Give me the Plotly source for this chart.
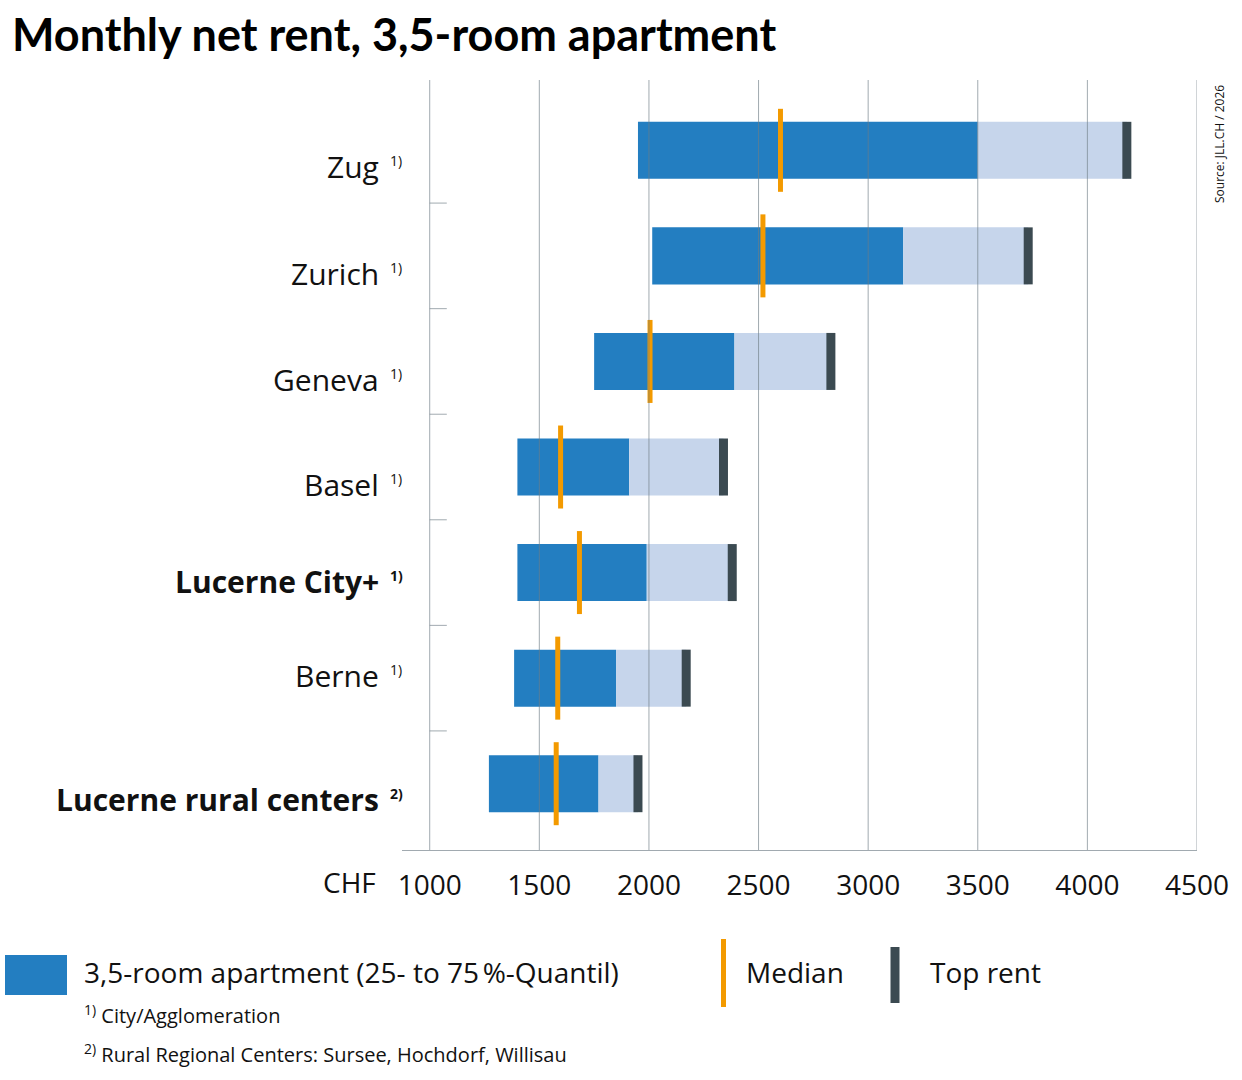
import plotly.graph_objects as go

# ---------------- data ----------------
cities = ["Zug", "Zurich", "Geneva", "Basel", "Lucerne City+", "Berne", "Lucerne rural centers"]
notes = ["1)", "1)", "1)", "1)", "1)", "1)", "2)"]
bold_rows = [False, False, False, False, True, False, True]
q25 = [1950, 2015, 1750, 1400, 1400, 1385, 1270]
q75 = [3500, 3160, 2390, 1910, 1990, 1850, 1770]
median = [2600, 2520, 2005, 1597, 1683, 1584, 1577]
top_rent = [4180, 3730, 2830, 2340, 2380, 2170, 1950]
x_ticks = [1000, 1500, 2000, 2500, 3000, 3500, 4000, 4500]

title = "Monthly net rent, 3,5-room apartment"
legend_box = "3,5-room apartment (25- to 75\u202f%-Quantil)"
legend_median = "Median"
legend_top = "Top rent"
foot1 = "City/Agglomeration"
foot2 = "Rural Regional Centers: Sursee, Hochdorf, Willisau"
source = "Source: JLL.CH / 2026"

# ---------------- style ----------------
DARK_BLUE = "#237EC1"
LIGHT_BLUE = "#C6D5EB"
ORANGE = "#F39A00"
TOP = "#3B4A51"
GRID = "rgba(110,124,134,0.65)"
TXT = "#111111"
FONT = "Open Sans"

W, H = 1242, 1080
L, R, T, B = 402, 45, 80, 230
PW, PH = W - L - R, H - T - B


def px(x):
    return (x - L) / PW


def py(y):
    return (H - B - y) / PH


idx = list(range(len(cities)))
LINE_K = 1.4  # plotly line-ns symbol length = size * 1.4

fig = go.Figure()
fig.add_trace(go.Bar(y=idx, x=[b - a for a, b in zip(q25, q75)], base=q25, orientation="h",
                     width=0.54, marker=dict(color=DARK_BLUE, line=dict(width=0)), hoverinfo="skip"))
fig.add_trace(go.Bar(y=idx, x=[b - a for a, b in zip(q75, top_rent)], base=q75, orientation="h",
                     width=0.54, marker=dict(color=LIGHT_BLUE, line=dict(width=0)), hoverinfo="skip"))
fig.add_trace(go.Scatter(y=idx, x=top_rent, mode="markers", hoverinfo="skip",
                         marker=dict(symbol="line-ns", size=57 / LINE_K, line=dict(width=9, color=TOP))))
fig.add_trace(go.Scatter(y=idx, x=median, mode="markers", hoverinfo="skip",
                         marker=dict(symbol="line-ns", size=83 / LINE_K, line=dict(width=5, color=ORANGE))))

shapes = []
# vertical gridlines drawn above bars (semi transparent, like the reference)
for v in x_ticks:
    shapes.append(dict(type="line", xref="x", yref="paper", x0=v, x1=v, y0=0, y1=1,
                       line=dict(color=GRID, width=1), layer="above"))
# row separators
for i in idx[:-1]:
    shapes.append(dict(type="line", xref="x", yref="y", x0=x_ticks[0], x1=x_ticks[0] + 78,
                       y0=i + 0.5, y1=i + 0.5, line=dict(color=GRID, width=1)))
# legend symbols
shapes.append(dict(type="rect", xref="paper", yref="paper", x0=px(5), x1=px(67), y0=py(995), y1=py(955),
                   fillcolor=DARK_BLUE, line=dict(width=0)))
shapes.append(dict(type="line", xref="paper", yref="paper", x0=px(723.5), x1=px(723.5), y0=py(1007), y1=py(939),
                   line=dict(color=ORANGE, width=5)))
shapes.append(dict(type="line", xref="paper", yref="paper", x0=px(895), x1=px(895), y0=py(1003), y1=py(947),
                   line=dict(color=TOP, width=9)))

ann = []
label_dy = [0.158, 0.164, 0.168, 0.17, 0.08, -0.026, 0.154]
for i, (c, n, b) in enumerate(zip(cities, notes, bold_rows)):
    t = f"<b>{c}</b>" if b else c
    s = f"<b>{n}</b>" if b else n
    ann.append(dict(xref="paper", yref="y", x=px(381), y=i + label_dy[i], text=t, showarrow=False,
                    xanchor="right", yanchor="middle", font=dict(family=FONT, size=30, color=TXT)))
    ann.append(dict(xref="paper", yref="y", x=px(388), y=i + label_dy[i], yshift=6, text=s, showarrow=False,
                    xanchor="left", yanchor="middle", font=dict(family=FONT, size=14, color=TXT)))

ann.append(dict(xref="paper", yref="paper", x=px(10), y=py(34), text=f"<b>{title}</b>", showarrow=False,
                xanchor="left", yanchor="middle",
                font=dict(family="Lato", size=45, color="#000000", weight=900)))
ann.append(dict(xref="paper", yref="paper", x=px(378), y=py(882), text="CHF", showarrow=False,
                xanchor="right", yanchor="middle", font=dict(family=FONT, size=28, color=TXT)))
ann.append(dict(xref="paper", yref="paper", x=px(82), y=py(972), text=legend_box, showarrow=False,
                xanchor="left", yanchor="middle", font=dict(family=FONT, size=28, color=TXT)))
ann.append(dict(xref="paper", yref="paper", x=px(744), y=py(972), text=legend_median, showarrow=False,
                xanchor="left", yanchor="middle", font=dict(family=FONT, size=28, color=TXT)))
ann.append(dict(xref="paper", yref="paper", x=px(928), y=py(972), text=legend_top, showarrow=False,
                xanchor="left", yanchor="middle", font=dict(family=FONT, size=28, color=TXT)))
ann.append(dict(xref="paper", yref="paper", x=px(82), y=py(1015), text=f"<sup>1)</sup> {foot1}", showarrow=False,
                xanchor="left", yanchor="middle", font=dict(family=FONT, size=20, color=TXT)))
ann.append(dict(xref="paper", yref="paper", x=px(82), y=py(1053), text=f"<sup>2)</sup> {foot2}", showarrow=False,
                xanchor="left", yanchor="middle", font=dict(family=FONT, size=20, color=TXT)))
ann.append(dict(xref="paper", yref="paper", x=px(1219), y=py(144), text=source, showarrow=False, textangle=-90,
                xanchor="center", yanchor="middle", font=dict(family=FONT, size=12, color=TXT)))

fig.update_layout(
    width=W, height=H, margin=dict(l=L, r=R, t=T, b=B, autoexpand=False),
    paper_bgcolor="white", plot_bgcolor="white", barmode="overlay", showlegend=False,
    hovermode=False, shapes=shapes, annotations=ann,
    xaxis=dict(range=[873.6, 4500], tickvals=x_ticks, ticktext=[str(v) for v in x_ticks],
               showgrid=False, zeroline=False, showline=True, linecolor=GRID, linewidth=1,
               ticks="", ticklabelstandoff=10, tickfont=dict(family=FONT, size=28, color=TXT)),
    yaxis=dict(range=[6.628, -0.666], showgrid=False, zeroline=False, showticklabels=False,
               showline=False, ticks=""),
)

fig.write_html("out.html", config={"displayModeBar": False},
               post_script="document.body.style.margin='0px';")
